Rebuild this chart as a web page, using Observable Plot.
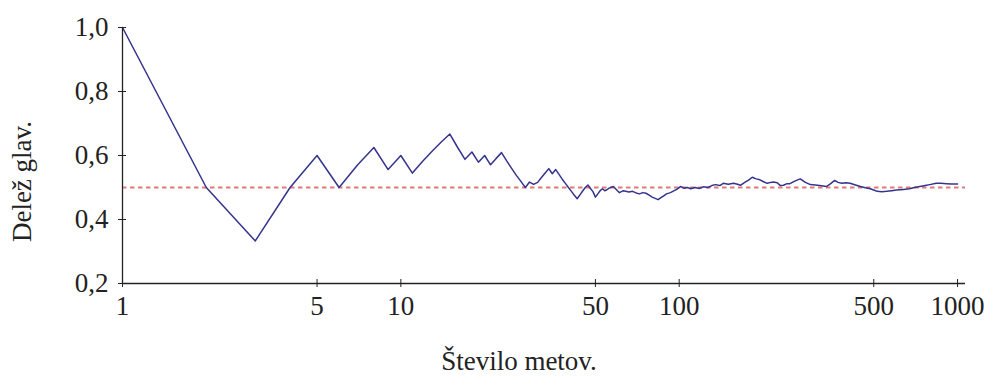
<!DOCTYPE html>
<html>
<head>
<meta charset="utf-8">
<script src="https://cdn.jsdelivr.net/npm/d3@7"></script>
<script src="https://cdn.jsdelivr.net/npm/@observablehq/plot@0.6"></script>
<style>
  html, body { margin: 0; padding: 0; background: #fff; }
  #chart { width: 986px; height: 383px; }
</style>
</head>
<body>
<div id="chart"></div>
<script>
// number of tosses (x) and share of heads (y)
const tosses = [
  1,2,3,4,5,6,7,8,9,10,
  11,12,13,14,15,16,17,18,19,20,
  21,22,23,24,25,26,27,28,29,30,
  31,32,33,34,35,36,37,38,39,40,
  41,42,43,44,45,46,47,48,49,50,
  51,52,53,54,55,56,58,60,61,63,
  66,68,70,72,74,76,78,80,82,84,
  86,88,90,93,96,98,101,104,107,110,
  114,118,122,127,131,135,140,144,150,157,
  162,166,172,178,183,189,195,201,207,213,
  218,225,231,237,244,250,260,272,284,296,
  308,320,338,350,362,372,384,398,411,430,
  448,467,486,500,514,535,556,580,604,640,
  672,700,733,765,795,838,870,912,950,1000
];
const share = [
  1.0,0.5,0.333,0.5,0.6,0.5,0.571,0.625,0.556,0.6,
  0.545,0.583,0.615,0.643,0.667,0.625,0.588,0.611,0.579,0.6,
  0.571,0.591,0.609,0.583,0.56,0.538,0.519,0.5,0.517,0.51,
  0.516,0.531,0.545,0.559,0.543,0.556,0.541,0.526,0.513,0.5,
  0.488,0.476,0.465,0.477,0.489,0.5,0.508,0.497,0.487,0.47,
  0.48,0.49,0.496,0.49,0.493,0.498,0.503,0.49,0.484,0.49,
  0.486,0.488,0.483,0.48,0.484,0.482,0.476,0.47,0.466,0.462,
  0.468,0.474,0.48,0.484,0.49,0.494,0.503,0.498,0.5,0.496,
  0.5,0.497,0.502,0.5,0.506,0.509,0.506,0.513,0.51,0.513,
  0.51,0.507,0.516,0.524,0.532,0.527,0.524,0.518,0.513,0.516,
  0.517,0.515,0.506,0.507,0.512,0.512,0.52,0.527,0.516,0.509,
  0.508,0.506,0.503,0.512,0.522,0.516,0.513,0.515,0.513,0.508,
  0.503,0.499,0.496,0.492,0.488,0.487,0.488,0.49,0.492,0.494,
  0.496,0.5,0.503,0.506,0.509,0.513,0.513,0.512,0.511,0.511
];
const expected = [0.5];
const xTicks = [1, 5, 10, 50, 100, 500, 1000];
const yTicks = [0.2, 0.4, 0.6, 0.8, 1.0];
const xTitle = "Število metov.";
const yTitle = "Delež glav.";

const data = tosses.map((n, i) => ({n, p: share[i]}));
const fmtY = d => d.toFixed(1).replace(".", ",");
const blank = () => "";

const chart = Plot.plot({
  width: 986,
  height: 383,
  marginLeft: 122,
  marginRight: 21,
  marginTop: 27,
  marginBottom: 100,
  style: {fontFamily: "'Liberation Serif', serif", fontSize: "27px", color: "#222", background: "#fff"},
  x: {type: "log", domain: [1, 1068]},
  y: {domain: [0.2, 1.0]},
  marks: [
    Plot.ruleY(expected, {stroke: "#e07b7b", strokeWidth: 1.8, strokeDasharray: "4.5,3.5"}),
    Plot.line(data, {x: "n", y: "p", stroke: "#34348e", strokeWidth: 1.5}),
    Plot.ruleY([0.2], {stroke: "#222", strokeWidth: 1.3}),
    Plot.ruleX([1], {stroke: "#222", strokeWidth: 1.3}),
    Plot.axisX(xTicks, {tickSize: 4, tickFormat: blank, label: null, stroke: "#222"}),
    Plot.axisX(xTicks, {tickSize: -4, tickFormat: blank, label: null, stroke: "#222"}),
    Plot.text(xTicks, {x: d => d, text: d => String(d), frameAnchor: "bottom", lineAnchor: "top", dy: 12, fill: "#222"}),
    Plot.axisY(yTicks, {tickSize: 4, tickPadding: 10, tickFormat: fmtY, label: null, stroke: "#222"}),
    Plot.axisY(yTicks, {tickSize: -4, tickFormat: blank, label: null, stroke: "#222"}),
    Plot.text([xTitle], {text: d => d, frameAnchor: "bottom", dy: 86, dx: -25, fill: "#222"}),
    Plot.text([yTitle], {text: d => d, frameAnchor: "left", textAnchor: "middle", rotate: -90, dx: -100, dy: 26, fill: "#222"})
  ]
});
document.getElementById("chart").append(chart);
</script>
</body>
</html>
